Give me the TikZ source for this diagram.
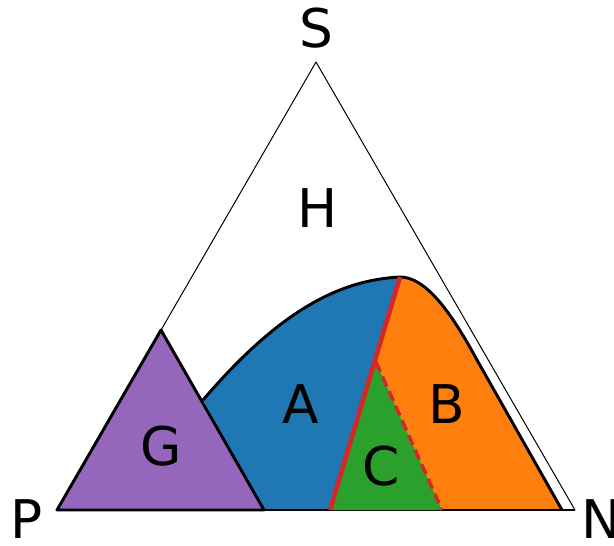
\documentclass[tikz,border=0pt]{standalone}
\usepackage{fontspec}
\setmainfont{DejaVu Sans}
\usetikzlibrary{positioning}
\definecolor{tabblue}{HTML}{1F77B4}
\definecolor{taborange}{HTML}{FF7F0E}
\definecolor{tabgreen}{HTML}{2CA02C}
\definecolor{tabred}{HTML}{D62728}
\definecolor{tabpurple}{HTML}{9467BD}
\begin{document}
\begin{tikzpicture}[x=0.75pt,y=-0.75pt,line join=round,
  lbl/.style={font=\fontsize{40}{40}\selectfont,inner sep=0pt},
  outline/.style={draw=black,line width=2.2pt},
  split/.style={draw=tabred,line width=3.5pt},
  splitdash/.style={draw=tabred,line width=2.6pt,dash pattern=on 8pt off 4pt}]
\useasboundingbox (0,0) rectangle (614,546);
\coordinate (p) at (57,510);
\coordinate (n) at (575,510);
\coordinate (s) at (316,62);
\coordinate (top) at (400,277);
\coordinate (gtop) at (161,330);
\coordinate (gright) at (264,510);
\coordinate (astart) at (203,400);
\coordinate (redfoot) at (330,510);
\coordinate (capex) at (376,362);
\coordinate (cfoot) at (442,510);
\coordinate (bfoot) at (562,510);
\coordinate (bknee) at (477,360);
% outer triangle
\draw[line width=0.75pt] (p)--(n)--(s)--cycle;
% regions
\fill[tabblue] (astart) .. controls (280,310) and (340,280) .. (top)--(redfoot)--(gright)--cycle;
\fill[taborange] (top) .. controls (425,277) and (450,310) .. (bknee)--(bfoot)--(cfoot)--(capex)--cycle;
\draw[outline] (astart) .. controls (280,310) and (340,280) .. (top);
\draw[outline] (top) .. controls (425,277) and (450,310) .. (bknee)--(bfoot);
\draw[outline] (gright)--(n);
\fill[tabgreen] (capex)--(cfoot)--(redfoot)--cycle;
\draw[split] (top)--(redfoot);
\draw[splitdash] (capex)--(cfoot);
\draw[outline,fill=tabpurple] (p)--(gtop)--(gright)--cycle;
% labels
\node[lbl] (slbl) at (316,28) {S};
\node[lbl] (plbl) at (27,519) {P};
\node[lbl] (nlbl) at (601,519) {N};
\node[lbl] (h) at (318,208) {H};
\node[lbl] (a) at (301,404) {A};
\node[lbl] (b) at (447,404) {B};
\node[lbl] (c) at (381,466) {C};
\node[lbl] (g) at (161,446) {G};
\end{tikzpicture}
\end{document}
